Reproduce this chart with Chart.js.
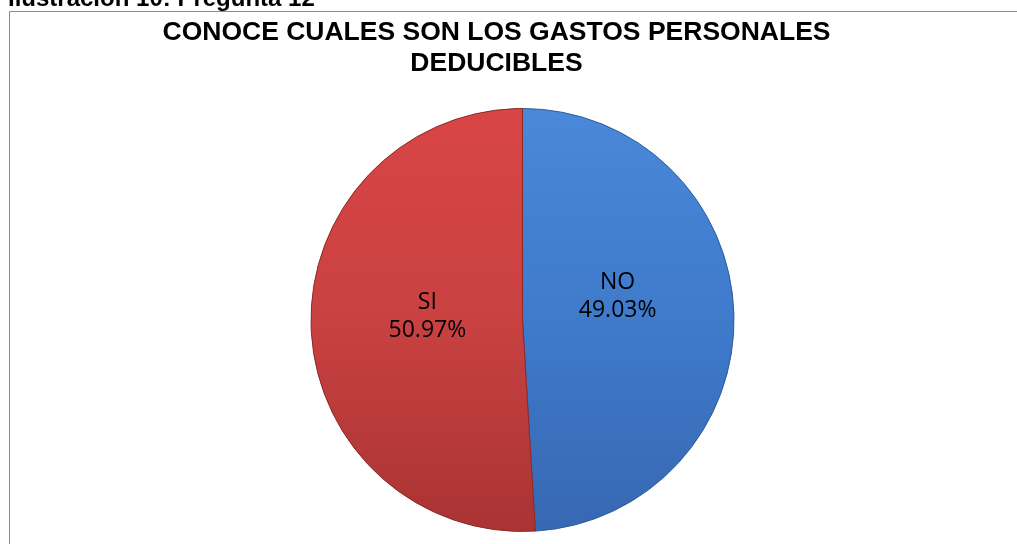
<!DOCTYPE html>
<html lang="es">
  <head>
    <meta charset="utf-8" />
    <title>Pregunta 12</title>
    <script src="https://cdn.jsdelivr.net/npm/chart.js@4.4.1/dist/chart.umd.min.js"></script>
    <style>
      * {
        margin: 0;
        padding: 0;
        box-sizing: border-box;
      }
      body {
        background: #ffffff;
        width: 1017px;
        height: 544px;
        overflow: hidden;
      }
      #chart {
        display: block;
      }
    </style>
  </head>
  <body>
    <canvas id="chart" width="1017" height="544"></canvas>
    <script>
      // datos de la pregunta 12
      const categories = ["NO", "SI"];
      const percentages = [49.03, 50.97];
      const caption = "Ilustración 10: Pregunta 12";
      const titleLines = ["CONOCE CUALES SON LOS GASTOS PERSONALES", "DEDUCIBLES"];

      // colores tipo Excel (degradado de arriba hacia abajo)
      const topColors = ["#4a88da", "#d94545"];
      const midColors = ["#3f7acb", "#c94141"];
      const bottomColors = ["#3768b2", "#aa3333"];
      const edgeColors = ["#2f5c98", "#8a2a28"];

      // desplazamiento vertical de cada etiqueta dentro de su porción
      const labelLift = [-21, -6];

      const fillFor = (ctx) => {
        const area = ctx.chart.chartArea;
        const i = ctx.dataIndex;
        if (!area) return midColors[i];
        const g = ctx.chart.ctx.createLinearGradient(0, area.top, 0, area.bottom);
        g.addColorStop(0, topColors[i]);
        g.addColorStop(0.5, midColors[i]);
        g.addColorStop(1, bottomColors[i]);
        return g;
      };

      // marco y encabezados
      const framePlugin = {
        id: "frame",
        beforeDraw(chart) {
          const c = chart.ctx;
          c.save();
          c.fillStyle = "#ffffff";
          c.fillRect(0, 0, chart.width, chart.height);
          c.strokeStyle = "#8a8a8a";
          c.lineWidth = 1;
          c.beginPath();
          c.moveTo(9.5, chart.height);
          c.lineTo(9.5, 11.5);
          c.lineTo(chart.width, 11.5);
          c.stroke();

          c.fillStyle = "#000000";
          c.textAlign = "left";
          c.textBaseline = "alphabetic";
          c.font = "bold 24px 'Liberation Sans', Arial, sans-serif";
          c.fillText(caption, 8, 6);

          c.textAlign = "center";
          c.font = "bold 26.5px 'Liberation Sans', Arial, sans-serif";
          c.fillText(titleLines[0], 496.5, 40);
          c.fillText(titleLines[1], 496.5, 71);
          c.restore();
        },
      };

      // etiquetas dentro de cada porción
      const sliceLabels = {
        id: "sliceLabels",
        afterDatasetsDraw(chart) {
          const c = chart.ctx;
          const meta = chart.getDatasetMeta(0);
          c.save();
          c.fillStyle = "#000000";
          c.textAlign = "center";
          c.textBaseline = "middle";
          c.font = "23px 'Open Sans', sans-serif";
          meta.data.forEach((arc, i) => {
            const p = arc.getProps(["x", "y", "startAngle", "endAngle", "outerRadius"], true);
            const mid = (p.startAngle + p.endAngle) / 2;
            const r = p.outerRadius * 0.45;
            const x = p.x + Math.cos(mid) * r;
            const y = p.y + Math.sin(mid) * r + labelLift[i];
            c.fillText(categories[i], x, y - 14);
            c.fillText(percentages[i].toFixed(2) + "%", x, y + 14);
          });
          c.restore();
        },
      };

      new Chart(document.getElementById("chart"), {
        type: "pie",
        data: {
          labels: categories,
          datasets: [
            {
              data: percentages,
              backgroundColor: fillFor,
              borderColor: edgeColors,
              borderWidth: 1,
            },
          ],
        },
        options: {
          responsive: false,
          devicePixelRatio: 1,
          animation: false,
          layout: {
            padding: { top: 108, bottom: 12, left: 28, right: 0 },
          },
          plugins: {
            legend: { display: false },
            tooltip: { enabled: false },
            title: { display: false },
          },
        },
        plugins: [framePlugin, sliceLabels],
      });
    </script>
  </body>
</html>
